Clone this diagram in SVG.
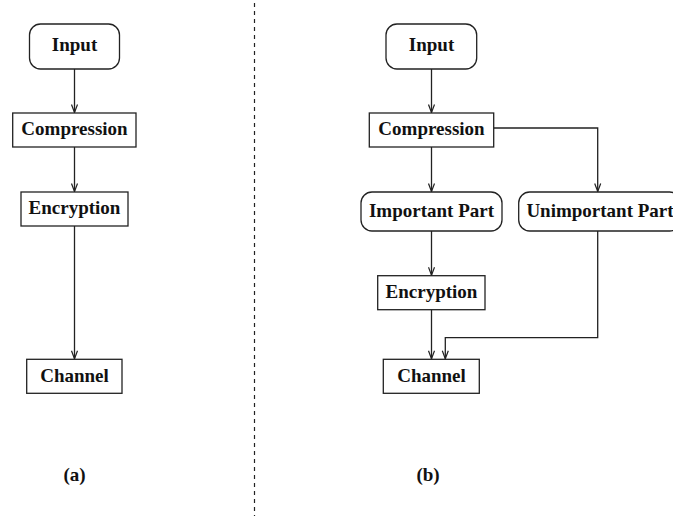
<svg xmlns="http://www.w3.org/2000/svg" width="673" height="516" viewBox="0 0 673 516">
<style>
.box{fill:#fff;stroke:#222;stroke-width:1.3}
.t{font-family:"Liberation Serif","Times New Roman",serif;font-weight:bold;font-size:19px;fill:#111;text-anchor:middle}
.c{fill:none;stroke:#222;stroke-width:1.3}
</style>
<defs>
<marker id="ah" viewBox="-9 -4 10 8" refX="0" refY="0" markerWidth="10" markerHeight="8" markerUnits="userSpaceOnUse" orient="auto">
<path d="M-8,-3 L0,0 L-8,3" fill="none" stroke="#222" stroke-width="1.2"/>
</marker>
</defs>
<rect width="673" height="516" fill="#fff"/>
<line x1="254.5" y1="3" x2="254.5" y2="516" stroke="#222" stroke-width="1.2" stroke-dasharray="4,4"/>
<g id="connectors">
<line class="c" x1="74.5" y1="69" x2="74.5" y2="112.5" marker-end="url(#ah)"/>
<line class="c" x1="74.5" y1="147" x2="74.5" y2="191.5" marker-end="url(#ah)"/>
<line class="c" x1="74.5" y1="226" x2="74.5" y2="358.8" marker-end="url(#ah)"/>
<line class="c" x1="431.5" y1="69" x2="431.5" y2="112.5" marker-end="url(#ah)"/>
<line class="c" x1="431.5" y1="147" x2="431.5" y2="191.5" marker-end="url(#ah)"/>
<polyline class="c" points="493.7,128 597.7,128 597.7,191.5" marker-end="url(#ah)"/>
<line class="c" x1="431.5" y1="231" x2="431.5" y2="275.2" marker-end="url(#ah)"/>
<line class="c" x1="431.5" y1="309.7" x2="431.5" y2="358.8" marker-end="url(#ah)"/>
<polyline class="c" points="597.7,231 597.7,337.7 445.3,337.7 445.3,358.8" marker-end="url(#ah)"/>
</g>
<g id="a-input"><rect class="box" x="29.5" y="24" width="90" height="45" rx="11"/><text class="t" x="74.5" y="51">Input</text></g>
<g id="a-compression"><rect class="box" x="12.7" y="113" width="123.3" height="34"/><text class="t" x="74.5" y="134.5">Compression</text></g>
<g id="a-encryption"><rect class="box" x="21" y="192" width="107" height="34"/><text class="t" x="74.5" y="213.5">Encryption</text></g>
<g id="a-channel"><rect class="box" x="26.7" y="359.3" width="95.3" height="34"/><text class="t" x="74.5" y="382">Channel</text></g>
<g id="label-a"><text class="t" x="74.5" y="481">(a)</text></g>
<g id="b-input"><rect class="box" x="386" y="24" width="90.7" height="45" rx="11"/><text class="t" x="431.5" y="51">Input</text></g>
<g id="b-compression"><rect class="box" x="369.3" y="113" width="124.4" height="34"/><text class="t" x="431.5" y="134.5">Compression</text></g>
<g id="b-important"><rect class="box" x="361" y="192" width="141" height="39" rx="11"/><text class="t" x="431.5" y="217">Important Part</text></g>
<g id="b-unimportant"><rect class="box" x="518.7" y="192" width="162" height="39" rx="11"/><text class="t" x="600" y="217">Unimportant Part</text></g>
<g id="b-encryption"><rect class="box" x="377.7" y="275.7" width="107.3" height="34"/><text class="t" x="431.5" y="297.5">Encryption</text></g>
<g id="b-channel"><rect class="box" x="383.3" y="359.3" width="96" height="34"/><text class="t" x="431.5" y="382">Channel</text></g>
<g id="label-b"><text class="t" x="428" y="481">(b)</text></g>
</svg>
